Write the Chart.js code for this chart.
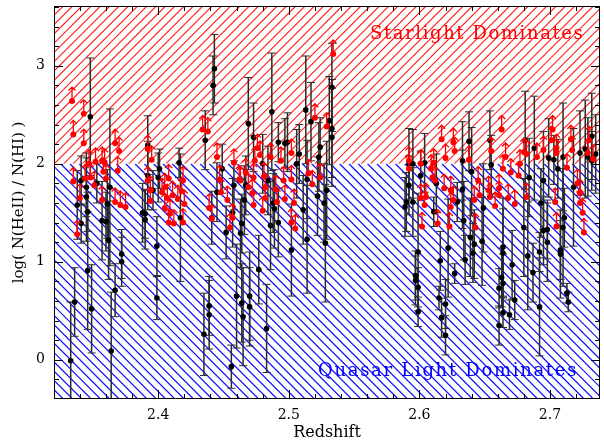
<!DOCTYPE html>
<html>
<head>
<meta charset="utf-8">
<script src="https://cdn.jsdelivr.net/npm/chart.js@4"></script>
<style>
  html, body { margin: 0; padding: 0; background: #fff; overflow: hidden; }
  #wrap { width: 604px; height: 443px; }
  canvas { display: block; }
</style>
</head>
<body>
<div id="wrap"><canvas id="myChart" width="604" height="443"></canvas></div>
<script>
const xTicks = [2.4, 2.5, 2.6, 2.7];
const yTicks = [0, 1, 2, 3];

// measured values (black, with error bars)
const detZ = [
  2.333, 2.336, 2.338, 2.341, 2.341, 2.345, 2.346, 2.346, 2.348, 2.349, 2.353, 2.345, 2.357, 2.360, 2.361, 2.363, 2.362, 2.364, 2.367, 2.372, 2.372,
  2.390, 2.390, 2.392, 2.392, 2.388, 2.399, 2.399, 2.417, 2.416, 2.401, 2.396, 2.400,
  2.443, 2.442, 2.436, 2.441, 2.449, 2.445, 2.458, 2.457, 2.452, 2.463, 2.464, 2.435, 2.439, 2.439, 2.456, 2.460, 2.464, 2.465, 2.470, 2.470, 2.469, 2.473, 2.467, 2.466,
  2.477, 2.483, 2.487, 2.480, 2.484, 2.489, 2.488, 2.492, 2.486, 2.492, 2.497, 2.499, 2.502, 2.508, 2.506, 2.513, 2.517, 2.514, 2.511, 2.514, 2.524, 2.523, 2.522, 2.527, 2.528, 2.529, 2.533, 2.533, 2.531, 2.533,
  2.592, 2.595, 2.604, 2.601, 2.592, 2.590, 2.589, 2.595, 2.613, 2.611, 2.599, 2.597, 2.597, 2.599, 2.599, 2.616, 2.615, 2.620, 2.617, 2.620, 2.622, 2.627, 2.629, 2.633, 2.633, 2.634, 2.635, 2.638, 2.640, 2.639, 2.642, 2.641,
  2.648, 2.649, 2.654, 2.655, 2.664, 2.664, 2.663, 2.664, 2.661, 2.664, 2.661, 2.669, 2.673, 2.671, 2.680, 2.683, 2.687, 2.692, 2.692, 2.684, 2.681, 2.688, 2.698, 2.698, 2.695,
  2.699, 2.703, 2.710, 2.706, 2.693, 2.695, 2.711, 2.710, 2.708, 2.708, 2.713, 2.714, 2.718, 2.723, 2.727, 2.732, 2.732, 2.729, 2.735
];
const detV = [
  -0.01, 0.59, 1.58, 1.39, 1.83, 1.66, 1.51, 0.91, 2.48, 0.52, 1.80, 1.76, 1.42, 1.41, 1.59, 1.76, 1.22, 0.09, 0.71, 1.08, 1.00,
  1.49, 1.43, 2.19, 1.88, 1.50, 1.16, 0.63, 1.45, 2.01, 1.95, 1.73, 1.86,
  2.97, 2.80, 2.24, 1.45, 1.95, 1.71, 1.78, 1.50, 1.30, 1.29, 1.39, 0.26, 0.46, 0.55, -0.07, 0.65, 0.58, 0.44, 0.65, 0.54, 2.41, 2.27, 1.78, 1.63,
  0.92, 0.32, 2.53, 2.00, 1.83, 1.54, 1.60, 1.40, 1.37, 2.22, 2.21, 2.22, 1.12, 2.10, 2.00, 2.55, 2.43, 1.84, 1.53, 1.23, 2.17, 2.07, 1.67, 1.60, 1.19, 1.73, 2.78, 2.27, 2.44, 2.36,
  2.00, 2.00, 2.01, 1.88, 1.78, 1.61, 1.56, 1.61, 1.80, 1.51, 1.10, 0.86, 0.81, 0.74, 0.49, 1.01, 0.63, 0.57, 0.43, 0.25, 1.14, 0.88, 1.61, 1.74, 2.03, 1.42, 1.02, 2.23, 1.92, 1.25, 1.18, 1.09,
  1.21, 1.55, 2.24, 1.99, 1.15, 1.09, 0.84, 0.78, 0.73, 0.48, 0.35, 0.46, 0.61, 0.97, 1.35, 1.06, 0.89, 0.54, 1.10, 1.86, 2.24, 2.16, 1.33, 1.20, 1.83,
  2.06, 2.04, 2.07, 1.95, 1.60, 1.32, 1.45, 1.35, 1.12, 1.08, 0.68, 0.59, 1.76, 2.11, 2.15, 2.28, 2.03, 2.07, 2.10
];
const detErr = [
  0.60, 0.35, 0.35, 0.20, 0.25, 0.45, 0.20, 0.60, 0.60, 0.45, 0.20, 0.30, 0.40, 0.30, 0.35, 0.80, 0.40, 0.60, 0.27, 0.25, 0.25,
  0.25, 0.30, 0.30, 0.35, 0.30, 0.30, 0.22, 0.65, 0.15, 0.20, 0.20, 0.25,
  0.35, 0.30, 0.30, 0.27, 0.25, 0.30, 0.25, 0.35, 0.27, 0.35, 0.30, 0.42, 0.35, 0.30, 0.22, 0.53, 0.40, 0.50, 0.45, 0.40, 0.47, 0.35, 0.30, 0.35,
  0.35, 0.45, 0.60, 0.30, 0.35, 0.40, 0.30, 0.35, 0.45, 0.20, 0.25, 0.30, 0.47, 0.30, 0.35, 0.55, 0.40, 0.40, 0.35, 0.55, 0.30, 0.35, 0.40, 0.40, 0.60, 0.50, 0.45, 0.50, 0.45, 0.50,
  0.36, 0.35, 0.30, 0.25, 0.30, 0.30, 0.30, 0.35, 0.30, 0.15, 0.60, 0.25, 0.25, 0.20, 0.15, 0.30, 0.12, 0.25, 0.20, 0.20, 0.50, 0.10, 0.20, 0.40, 0.40, 0.40, 0.25, 0.30, 0.45, 0.40, 0.35, 0.30,
  0.45, 0.45, 0.30, 0.30, 0.50, 0.45, 0.30, 0.30, 0.20, 0.15, 0.20, 0.15, 0.20, 0.35, 0.50, 0.55, 0.30, 0.50, 0.20, 0.40, 0.50, 0.53, 0.30, 0.40, 0.50,
  0.40, 0.25, 0.55, 0.30, 0.35, 0.35, 0.30, 0.60, 0.30, 0.45, 0.10, 0.10, 0.60, 0.43, 0.50, 0.44, 0.30, 0.40, 0.40
];

// lower limits (red, drawn with up arrows)
const limZ = [
  2.334, 2.343, 2.335, 2.343, 2.367, 2.370, 2.347, 2.352, 2.357, 2.359, 2.369, 2.335, 2.344, 2.348, 2.351, 2.358, 2.360, 2.357, 2.367, 2.371, 2.375, 2.340, 2.338,
  2.392, 2.395, 2.394, 2.392, 2.394, 2.405, 2.408, 2.403, 2.407, 2.411, 2.415, 2.420, 2.419, 2.405, 2.409, 2.412, 2.408, 2.419, 2.418,
  2.434, 2.438, 2.445, 2.458, 2.463, 2.441, 2.439, 2.447, 2.448, 2.453, 2.455, 2.457, 2.462, 2.467, 2.469, 2.472, 2.473, 2.473,
  2.534, 2.520, 2.529, 2.476, 2.478, 2.474, 2.486, 2.494, 2.502, 2.481, 2.482, 2.482, 2.480, 2.490, 2.491, 2.496, 2.497, 2.502, 2.504, 2.502, 2.505, 2.515, 2.518, 2.524,
  2.617, 2.620, 2.627, 2.626, 2.592, 2.592, 2.601, 2.609, 2.611, 2.610, 2.612, 2.601, 2.604, 2.605, 2.602, 2.614, 2.619, 2.624, 2.624, 2.626, 2.623, 2.638, 2.643, 2.642,
  2.663, 2.655, 2.666, 2.664, 2.670, 2.676, 2.645, 2.653, 2.654, 2.661, 2.661, 2.658, 2.668, 2.673, 2.682, 2.646, 2.680, 2.682, 2.690, 2.677,
  2.702, 2.701, 2.695, 2.705, 2.705, 2.716, 2.717, 2.713, 2.721, 2.723, 2.723, 2.725, 2.726, 2.704, 2.705, 2.729, 2.730, 2.733
];
const limV = [
  2.64, 2.51, 2.30, 2.21, 2.21, 2.13, 2.00, 2.02, 2.03, 2.01, 1.93, 1.82, 1.85, 1.86, 1.78, 1.92, 1.85, 1.63, 1.61, 1.58, 1.56, 1.65, 1.28,
  2.15, 2.04, 1.73, 1.83, 1.62, 1.76, 1.85, 1.71, 1.65, 1.68, 1.64, 1.59, 1.83, 1.55, 1.49, 1.39, 1.40, 1.40, 1.72,
  2.35, 2.33, 2.07, 2.01, 1.83, 1.44, 1.55, 1.84, 1.71, 1.63, 1.35, 1.45, 1.84, 1.91, 1.76, 1.70, 1.86, 1.58,
  3.12, 2.47, 2.38, 2.16, 2.09, 2.03, 2.07, 2.03, 2.11, 1.87, 1.76, 1.65, 1.52, 1.74, 1.61, 1.83, 1.64, 1.84, 1.60, 1.40, 1.34, 1.90, 1.79, 1.86,
  2.25, 2.06, 2.13, 2.22, 2.03, 1.95, 2.00, 1.95, 2.01, 1.86, 1.83, 1.65, 1.58, 1.66, 1.36, 1.39, 1.75, 1.73, 1.56, 1.63, 1.36, 2.04, 1.35, 1.63,
  2.35, 2.13, 2.07, 1.95, 1.91, 1.88, 1.83, 1.73, 1.66, 1.75, 1.68, 1.57, 1.65, 1.59, 1.66, 1.68, 2.12, 2.10, 2.07, 2.00,
  2.35, 2.24, 2.14, 2.16, 2.11, 2.25, 2.14, 1.96, 1.80, 1.70, 1.60, 1.50, 1.30, 1.61, 1.36, 2.11, 2.24, 2.05
];

const FONT = 'DejaVu Serif';

// hatched regions + error bars, under the points
const background = {
  id: 'background',
  beforeDatasetsDraw(chart) {
    const { ctx, chartArea: a, scales: { x, y } } = chart;
    const yb = y.getPixelForValue(2);
    const step = 9.3;

    ctx.save();
    ctx.beginPath();
    ctx.rect(a.left, a.top, a.right - a.left, yb - a.top);
    ctx.clip();
    ctx.strokeStyle = '#ff2020';
    ctx.lineWidth = 1.1;
    ctx.beginPath();
    let h = yb - a.top;
    for (let s = a.left - h; s < a.right + step; s += step) {
      ctx.moveTo(s, yb);
      ctx.lineTo(s + h, a.top);
    }
    ctx.stroke();
    ctx.restore();

    ctx.save();
    ctx.beginPath();
    ctx.rect(a.left, yb, a.right - a.left, a.bottom - yb);
    ctx.clip();
    ctx.strokeStyle = '#1010ff';
    ctx.lineWidth = 1.2;
    ctx.beginPath();
    h = a.bottom - yb;
    for (let s = a.left - h; s < a.right + step; s += step) {
      ctx.moveTo(s, yb);
      ctx.lineTo(s + h, a.bottom);
    }
    ctx.stroke();
    ctx.restore();

    // error bars
    ctx.save();
    ctx.beginPath();
    ctx.rect(a.left, a.top, a.right - a.left, a.bottom - a.top);
    ctx.clip();
    ctx.strokeStyle = '#2b2b2b';
    detZ.forEach((z, i) => {
      const px = x.getPixelForValue(z);
      const y1 = y.getPixelForValue(detV[i] - detErr[i]);
      const y2 = y.getPixelForValue(detV[i] + detErr[i]);
      ctx.lineWidth = 1.5;
      ctx.beginPath();
      ctx.moveTo(px, y1); ctx.lineTo(px, y2);
      ctx.stroke();
      ctx.lineWidth = 1;
      ctx.beginPath();
      ctx.moveTo(px - 4, y1); ctx.lineTo(px + 4, y1);
      ctx.moveTo(px - 4, y2); ctx.lineTo(px + 4, y2);
      ctx.stroke();
    });
    ctx.restore();
  }
};

// arrows on the lower limits, frame, ticks and text on top
const overlay = {
  id: 'overlay',
  afterDatasetsDraw(chart) {
    const { ctx, chartArea: a, scales: { x, y } } = chart;
    ctx.save();
    ctx.beginPath();
    ctx.rect(a.left, a.top, a.right - a.left, a.bottom - a.top);
    ctx.clip();
    ctx.strokeStyle = '#ff0000';
    ctx.lineWidth = 1.3;
    limZ.forEach((z, i) => {
      const px = x.getPixelForValue(z);
      const py = y.getPixelForValue(limV[i]);
      ctx.beginPath();
      ctx.moveTo(px, py);
      ctx.lineTo(px, py - 14);
      ctx.moveTo(px - 3.5, py - 10.5);
      ctx.lineTo(px, py - 14);
      ctx.lineTo(px + 3.5, py - 10.5);
      ctx.stroke();
    });
    ctx.restore();
  },
  afterDraw(chart) {
    const { ctx, chartArea: a, scales: { x, y } } = chart;
    ctx.save();
    ctx.strokeStyle = '#000';
    ctx.lineWidth = 1;
    ctx.strokeRect(a.left + 0.5, a.top + 0.5, a.right - a.left - 1, a.bottom - a.top - 1);
    ctx.beginPath();
    for (let k = 117; k <= 136; k++) {
      const px = Math.round(x.getPixelForValue(k / 50)) + 0.5;
      const len = k % 5 === 0 ? 9 : 5;
      ctx.moveTo(px, a.bottom); ctx.lineTo(px, a.bottom - len);
      ctx.moveTo(px, a.top); ctx.lineTo(px, a.top + len);
    }
    for (let k = -1; k <= 18; k++) {
      const py = Math.round(y.getPixelForValue(k / 5)) + 0.5;
      const len = k % 5 === 0 ? 9 : 5;
      ctx.moveTo(a.left, py); ctx.lineTo(a.left + len, py);
      ctx.moveTo(a.right, py); ctx.lineTo(a.right - len, py);
    }
    ctx.stroke();

    ctx.textBaseline = 'alphabetic';
    ctx.textAlign = 'left';
    ctx.letterSpacing = '1.6px';
    ctx.font = '18px "' + FONT + '"';
    ctx.fillStyle = '#ff0000';
    ctx.fillText('Starlight Dominates', 370, 39);
    ctx.fillStyle = '#0000ff';
    ctx.letterSpacing = '1.7px';
    ctx.fillText('Quasar Light Dominates', 318, 376);

    ctx.letterSpacing = '0px';
    ctx.fillStyle = '#000';
    ctx.font = '16px "' + FONT + '"';
    ctx.textAlign = 'center';
    ctx.fillText('Redshift', (a.left + a.right) / 2, 437);

    ctx.translate(23, (a.top + a.bottom) / 2);
    ctx.rotate(-Math.PI / 2);
    ctx.font = '15px "' + FONT + '"';
    ctx.fillText('log( N(HeII) / N(HI) )', 0, 0);
    ctx.restore();
  }
};

const noPad = s => {
  s.paddingTop = 0;
  s.paddingBottom = 0;
  s.paddingLeft = 0;
  s.paddingRight = 0;
};

const ctx = document.getElementById('myChart');

new Chart(ctx, {
  type: 'scatter',
  data: {
    datasets: [{
      label: 'lower limits',
      data: limZ.map((z, i) => ({ x: z, y: limV[i] })),
      backgroundColor: '#ff0000',
      borderColor: '#ff0000',
      pointRadius: 3,
      borderWidth: 0
    }, {
      label: 'measurements',
      data: detZ.map((z, i) => ({ x: z, y: detV[i] })),
      backgroundColor: '#000',
      borderColor: '#000',
      pointRadius: 2.8,
      borderWidth: 0
    }]
  },
  options: {
    responsive: false,
    animation: false,
    layout: { padding: { top: 6, right: 0, left: 0, bottom: 0 } },
    plugins: {
      legend: { display: false },
      tooltip: { enabled: false }
    },
    scales: {
      x: {
        type: 'linear',
        min: 2.3202,
        max: 2.7383,
        grid: { display: false, drawTicks: false },
        border: { display: false },
        afterBuildTicks: s => { s.ticks = xTicks.map(v => ({ value: v })); },
        afterFit: s => { s.height = 44; noPad(s); },
        ticks: {
          autoSkip: false,
          maxRotation: 0,
          padding: 8,
          color: '#000',
          font: { family: FONT, size: 14 },
          callback: v => v.toFixed(1)
        }
      },
      y: {
        min: -0.4,
        max: 3.61,
        grid: { display: false, drawTicks: false },
        border: { display: false },
        afterBuildTicks: s => { s.ticks = yTicks.map(v => ({ value: v })); },
        afterFit: s => { s.width = 54; noPad(s); },
        ticks: {
          padding: 9,
          color: '#000',
          font: { family: FONT, size: 14 },
          callback: v => String(v)
        }
      }
    }
  },
  plugins: [background, overlay]
});
</script>
</body>
</html>
